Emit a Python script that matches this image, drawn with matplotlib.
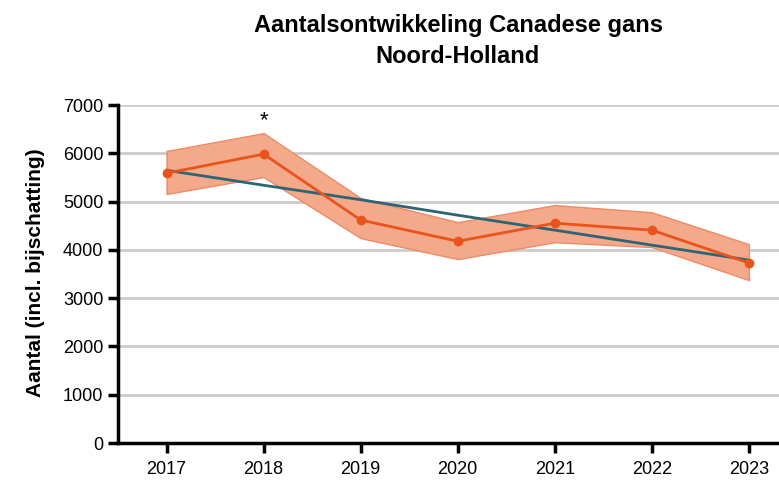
import matplotlib
matplotlib.use("Agg")
import matplotlib.pyplot as plt

# data
years = [2017, 2018, 2019, 2020, 2021, 2022, 2023]
counts = [5590, 5985, 4620, 4180, 4555, 4410, 3730]
upper = [6050, 6420, 5075, 4575, 4930, 4780, 4120]
lower = [5160, 5510, 4245, 3810, 4160, 4060, 3375]
trend = [5650, 5340, 5040, 4720, 4410, 4100, 3790]
yticks = [0, 1000, 2000, 3000, 4000, 5000, 6000, 7000]

plt.rcParams['font.family'] = ['Liberation Sans', 'DejaVu Sans']

fig = plt.figure(figsize=(7.79, 4.8), dpi=100)
ax = fig.add_axes([0.1515, 0.077, 0.8485, 0.704])

ax.fill_between(years, lower, upper, color='#f4a98a', edgecolor='#ee8a66',
                linewidth=1, zorder=2)
ax.plot(years, counts, color='#e8541c', linewidth=2, marker='o',
        markersize=6, zorder=4)
ax.plot(years, trend, color='#2f6474', linewidth=2, zorder=3)
ax.text(2018, 6680, '*', ha='center', va='center', fontsize=16, zorder=5)

ax.set_xlim(2016.5, 2023.31)
ax.set_ylim(0, 7000)
ax.set_xticks(years)
ax.set_yticks(yticks)
ax.tick_params(axis='both', labelsize=13, width=2.5, length=7, color='black')
ax.tick_params(axis='x', pad=6)
ax.grid(axis='y', color='#cccccc', linewidth=2, zorder=0)
ax.set_axisbelow(True)

for s in ['top', 'right']:
    ax.spines[s].set_visible(False)
for s in ['left', 'bottom']:
    ax.spines[s].set_linewidth(2.5)

ax.set_ylabel('Aantal (incl. bijschatting)', fontsize=15, fontweight='bold')
ax.yaxis.set_label_coords(-0.11, 0.503)
fig.text(0.589, 0.9327, 'Aantalsontwikkeling Canadese gans',
         ha='center', va='baseline', fontsize=17, fontweight='bold')
fig.text(0.587, 0.869, 'Noord-Holland',
         ha='center', va='baseline', fontsize=17, fontweight='bold')

fig.savefig('out.png', dpi=100)
